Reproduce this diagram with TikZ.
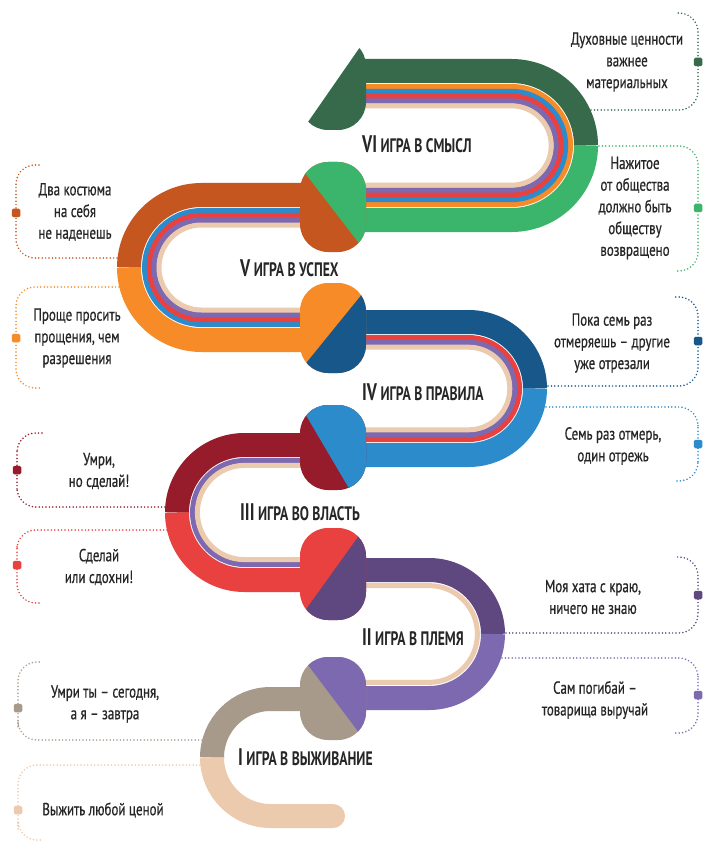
\documentclass[tikz,border=0pt]{standalone}
\usepackage{fontspec}
\usetikzlibrary{calc}
\newfontfamily\quotefont{PT Sans}[FakeStretch=0.74,FakeBold=0.6]
\newfontfamily\titlefont{PT Sans}[FakeStretch=0.7]

\definecolor{vidark}{HTML}{366A4B}
\definecolor{vilight}{HTML}{3BB56C}
\definecolor{vdark}{HTML}{C5561F}
\definecolor{vlight}{HTML}{F68B27}
\definecolor{ivdark}{HTML}{17578A}
\definecolor{ivlight}{HTML}{2C8BCB}
\definecolor{iiidark}{HTML}{961B2B}
\definecolor{iiilight}{HTML}{E8413F}
\definecolor{iidark}{HTML}{5F4780}
\definecolor{iilight}{HTML}{7D69B0}
\definecolor{idark}{HTML}{A89A8A}
\definecolor{ilight}{HTML}{ECCAAE}
\definecolor{txt}{HTML}{262626}

\pgfdeclarelayer{back}
\pgfsetlayers{back,main}

% half of a U band: straight arm then a quarter turn
% #1 colour, #2 width, #3 cx, #4 cy, #5 radius, #6 turn side (1 right, -1 left), #7 arm end x, #8 half (-1 top, 1 bottom)
\newcommand\halfu[8]{%
  \draw[draw=#1,line width=#2pt] (#7,{#4+(#8)*#5}) -- (#3,{#4+(#8)*#5})
    .. controls ({#3+(#6)*0.5523*#5},{#4+(#8)*#5}) and ({#3+(#6)*#5},{#4+(#8)*0.5523*#5}) .. ({#3+(#6)*#5},#4);}
% a whole thin U stripe
\newcommand\stripeu[7]{%
  \draw[draw=#1,line width=#2pt] (#7,{#4-#5}) -- (#3,{#4-#5})
    .. controls ({#3+(#6)*0.5523*#5},{#4-#5}) and ({#3+(#6)*#5},{#4-0.5523*#5}) .. ({#3+(#6)*#5},#4)
    .. controls ({#3+(#6)*#5},{#4+0.5523*#5}) and ({#3+(#6)*0.5523*#5},{#4+#5}) .. (#3,{#4+#5}) -- (#7,{#4+#5});}
% a rounded joint split by a diagonal: #1 top, #2 bottom, #3 left colour, #4 right colour, #5 A, #6 B
\newcommand\joint[6]{%
  \fill[#3,rounded corners=28pt] (300,#1) rectangle (366,#2);
  \begin{scope}
    \clip ($#5!-3!#6$) -- ($#6!-3!#5$) -- ++(300,0) -- ($#5!-3!#6+(300,0)$) -- cycle;
    \fill[#4,rounded corners=28pt] (300,#1) rectangle (366,#2);
  \end{scope}}

\begin{document}
\begin{tikzpicture}[x=1pt,y=-1pt,
  quote/.style={font=\quotefont\fontsize{17.5}{21.7}\selectfont, text=txt, align=center, inner sep=0pt},
  title/.style={font=\titlefont\bfseries\fontsize{19.5}{20}\selectfont, text=txt, anchor=base west, inner sep=0pt},
  dotline/.style={draw=#1, line width=1.7pt, line cap=round, dash pattern=on 0pt off 3.4pt, rounded corners=19pt},
  qmark/.style={fill=#1, rectangle, rounded corners=1.5pt, minimum size=8.5pt, inner sep=0pt},
]
\begin{pgfonlayer}{back}
  \fill[white] (0,0) rectangle (705,842);
\end{pgfonlayer}
\useasboundingbox (0,0) rectangle (705,842);

% ---- VI
\halfu{vidark}{24}{511.5}{145.5}{74.5}{1}{360}{-1}
\halfu{vilight}{24}{511.5}{145.5}{74.5}{1}{332}{1}
\stripeu{vlight}{5.2}{511.5}{145.5}{58.9}{1}{345}
\stripeu{ivlight}{5.2}{511.5}{145.5}{54.1}{1}{345}
\stripeu{iiilight}{5.2}{511.5}{145.5}{49.3}{1}{345}
\stripeu{iilight}{5.2}{511.5}{145.5}{44.5}{1}{345}
\stripeu{ilight}{5.0}{511.5}{145.5}{39.7}{1}{345}

% ---- V
\halfu{vdark}{24}{201.5}{267.5}{72.5}{-1}{332}{-1}
\halfu{vlight}{24}{201.5}{267.5}{72.5}{-1}{332}{1}
\stripeu{ivlight}{5.2}{201.5}{267.5}{56.9}{-1}{332}
\stripeu{iiilight}{5.2}{201.5}{267.5}{52.1}{-1}{332}
\stripeu{iilight}{5.2}{201.5}{267.5}{47.3}{-1}{332}
\stripeu{ilight}{5.0}{201.5}{267.5}{42.5}{-1}{332}

% ---- IV
\halfu{ivdark}{24}{468.5}{388.5}{66.5}{1}{332}{-1}
\halfu{ivlight}{24}{468.5}{388.5}{66.5}{1}{332}{1}
\stripeu{iiilight}{5.2}{468.5}{388.5}{50.9}{1}{332}
\stripeu{iilight}{5.2}{468.5}{388.5}{46.1}{1}{332}
\stripeu{ilight}{5.0}{468.5}{388.5}{41.3}{1}{332}

% ---- III
\halfu{iiidark}{24}{244.5}{512.5}{67.5}{-1}{332}{-1}
\halfu{iiilight}{24}{244.5}{512.5}{67.5}{-1}{332}{1}
\stripeu{iilight}{5.2}{244.5}{512.5}{51.9}{-1}{332}
\stripeu{ilight}{5.0}{244.5}{512.5}{47.1}{-1}{332}

% ---- II
\halfu{iidark}{24}{429}{634}{64}{1}{332}{-1}
\halfu{iilight}{24}{429}{634}{64}{1}{332}{1}
\stripeu{ilight}{5.0}{429}{634}{48.4}{1}{332}

% ---- I
\halfu{idark}{24}{270.5}{757.5}{58.5}{-1}{332}{-1}
\halfu{ilight}{24}{270.5}{757.5}{58.5}{-1}{333}{1}
\fill[ilight] (333,816) circle[radius=12pt];

% ---- joints between the levels
\joint{162}{252}{vdark}{vilight}{(305,173)}{(358,242)}
\joint{283}{373}{vlight}{ivdark}{(363,293)}{(307,362)}
\joint{405}{490}{iiidark}{ivlight}{(307,417)}{(347,485)}
\joint{528}{620}{iiilight}{iidark}{(358,537)}{(307,608)}
\joint{657}{740}{idark}{iilight}{(308,665)}{(357,730)}

% ---- arrow head at the top
\begin{scope}
  \clip ($(358,50)!-3!(308,122)$) -- ($(308,122)!-3!(358,50)$) -- ++(300,0) -- ($(358,50)!-3!(308,122)+(300,0)$) -- cycle;
  \fill[vidark,rounded corners=28pt] (300,38) rectangle (366,130);
\end{scope}

% ---- titles
\node[title] (t6) at (362,153) {{\fontsize{24}{24}\selectfont VI} ИГРА В СМЫСЛ};
\node[title] (t5) at (240,276) {{\fontsize{24}{24}\selectfont V} ИГРА В УСПЕХ};
\node[title] (t4) at (362,400) {{\fontsize{24}{24}\selectfont IV} ИГРА В ПРАВИЛА};
\node[title] (t3) at (240,520) {{\fontsize{24}{24}\selectfont III} ИГРА ВО ВЛАСТЬ};
\node[title] (t2) at (362,645) {{\fontsize{24}{24}\selectfont II} ИГРА В ПЛЕМЯ};
\node[title] (t1) at (238,765) {{\fontsize{24}{24}\selectfont I} ИГРА В ВЫЖИВАНИЕ};

% ---- sayings
\node[quote] (q6a) at (627,62) {Духовные ценности\\важнее\\материальных};
\node[quote] (q6b) at (635,208) {Нажитое\\от общества\\должно быть\\обществу\\возвращено};
\node[quote] (q5a) at (75,212) {Два костюма\\на себя\\не наденешь};
\node[quote] (q5b) at (77,338) {Проще просить\\прощения, чем\\разрешения};
\node[quote] (q4a) at (612,343) {Пока семь раз\\отмеряешь – другие\\уже отрезали};
\node[quote] (q4b) at (613,446) {Семь раз отмерь,\\один отрежь};
\node[quote] (q3a) at (99,471) {Умри,\\но сделай!};
\node[quote] (q3b) at (99,567) {Сделай\\или сдохни!};
\node[quote] (q2a) at (593,597) {Моя хата с краю,\\ничего не знаю};
\node[quote] (q2b) at (595,700) {Сам погибай –\\товарища выручай};
\node[quote] (q1a) at (105,704) {Умри ты – сегодня,\\а я – завтра};
\node[quote] (q1b) at (103,810) {Выжить любой ценой};

% ---- dotted brackets with their markers
\node[qmark=vidark] (m6a) at (698,62) {};
\node[qmark=vilight] (m6b) at (698,208) {};
\node[qmark=vdark] (m5a) at (16,213) {};
\node[qmark=vlight] (m5b) at (16,338) {};
\node[qmark=ivdark] (m4a) at (698,341) {};
\node[qmark=ivlight] (m4b) at (698,444) {};
\node[qmark=iiidark] (m3a) at (17,470) {};
\node[qmark=iiilight] (m3b) at (17,565) {};
\node[qmark=iidark] (m2a) at (698,595) {};
\node[qmark=iilight] (m2b) at (698,695) {};
\node[qmark=idark] (m1a) at (18,708) {};
\node[qmark=ilight] (m1b) at (18,810) {};

\coordinate (s6a) at (591,110);  \coordinate (e6a) at (675,13);
\coordinate (s6b) at (599,146);  \coordinate (e6b) at (675,271);
\coordinate (s5a) at (117,258);  \coordinate (e5a) at (40,165);
\coordinate (s5b) at (119,287);  \coordinate (e5b) at (40,388);
\coordinate (s4a) at (548,386);  \coordinate (e4a) at (675,297);
\coordinate (s4b) at (546,407);  \coordinate (e4b) at (675,481);
\coordinate (s3a) at (165,507);  \coordinate (e3a) at (42,433);
\coordinate (s3b) at (167,530);  \coordinate (e3b) at (42,603);
\coordinate (s2a) at (506,633);  \coordinate (e2a) at (675,557);
\coordinate (s2b) at (502,658);  \coordinate (e2b) at (675,733);
\coordinate (s1a) at (202,740);  \coordinate (e1a) at (42,662);
\coordinate (s1b) at (200,765);  \coordinate (e1b) at (42,840);

\begin{pgfonlayer}{back}
  \draw[dotline=vidark] (s6a) -| (m6a.center) |- (e6a);
  \draw[dotline=vilight] (s6b) -| (m6b.center) |- (e6b);
  \draw[dotline=vdark] (s5a) -| (m5a.center) |- (e5a);
  \draw[dotline=vlight] (s5b) -| (m5b.center) |- (e5b);
  \draw[dotline=ivdark] (s4a) -| (m4a.center) |- (e4a);
  \draw[dotline=ivlight] (s4b) -| (m4b.center) |- (e4b);
  \draw[dotline=iiidark] (s3a) -| (m3a.center) |- (e3a);
  \draw[dotline=iiilight] (s3b) -| (m3b.center) |- (e3b);
  \draw[dotline=iidark] (s2a) -| (m2a.center) |- (e2a);
  \draw[dotline=iilight] (s2b) -| (m2b.center) |- (e2b);
  \draw[dotline=idark] (s1a) -| (m1a.center) |- (e1a);
  \draw[dotline=ilight] (s1b) -| (m1b.center) |- (e1b);
\end{pgfonlayer}
\end{tikzpicture}
\end{document}
